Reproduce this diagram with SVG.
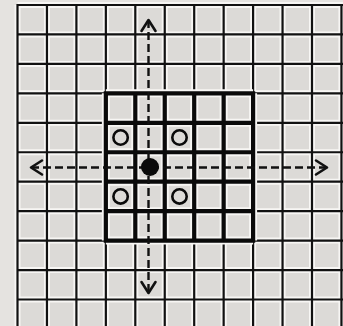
<svg xmlns="http://www.w3.org/2000/svg" width="343" height="326" viewBox="0 0 343 326">
  <style>
    .halo { fill: none; stroke: #f7f6f4; stroke-width: 6; }
    .thin { fill: none; stroke: #111; stroke-width: 2.2; }
    .thick { fill: none; stroke: #0a0a0a; stroke-width: 4.2; }
    .thickhalo { fill: none; stroke: #f7f6f4; stroke-width: 8; }
    .ring { fill: none; stroke: #0a0a0a; stroke-width: 2.6; }
    .dot { fill: #0a0a0a; }
    .dash { fill: none; stroke: #111; stroke-width: 2.4; stroke-dasharray: 8 4; }
    .head { fill: none; stroke: #111; stroke-width: 2.6; stroke-dasharray: none; stroke-linecap: round; stroke-linejoin: round; }
  </style>
  <defs>
    <marker id="arrow" markerUnits="userSpaceOnUse" viewBox="-14 -10 17 20" markerWidth="17" markerHeight="20" refX="0" refY="0" orient="auto-start-reverse">
      <path class="head" d="M-11,-7 L0,0 L-11,7"/>
    </marker>
  </defs>
  <rect width="343" height="326" fill="#e5e3e0"/>
  <g id="grid">
    <rect x="17.5" y="5" width="330" height="330" fill="#dcdad7"/>
    <path class="halo" d="M17.5,5V326M46.95,5V326M76.4,5V326M105.85,5V326M135.3,5V326M164.75,5V326M194.2,5V326M223.65,5V326M253.1,5V326M282.55,5V326M312,5V326M341.45,5V326M17.5,5H343M17.5,34.45H343M17.5,63.9H343M17.5,93.35H343M17.5,122.8H343M17.5,152.25H343M17.5,181.7H343M17.5,211.15H343M17.5,240.6H343M17.5,270.05H343M17.5,299.5H343"/>
    <path class="thin" d="M17.5,4V326M46.95,4V326M76.4,4V326M105.85,4V326M135.3,4V326M164.75,4V326M194.2,4V326M223.65,4V326M253.1,4V326M282.55,4V326M312,4V326M341.45,4V326M16.4,5H343M16.4,34.45H343M16.4,63.9H343M16.4,93.35H343M16.4,122.8H343M16.4,152.25H343M16.4,181.7H343M16.4,211.15H343M16.4,240.6H343M16.4,270.05H343M16.4,299.5H343"/>
  </g>
  <g id="square">
    <path class="thickhalo" d="M105.85,93.35V240.6M135.3,93.35V240.6M164.75,93.35V240.6M194.2,93.35V240.6M223.65,93.35V240.6M253.1,93.35V240.6M105.85,93.35H253.1M105.85,122.8H253.1M105.85,152.25H253.1M105.85,181.7H253.1M105.85,211.15H253.1M105.85,240.6H253.1"/>
    <path class="thick" d="M105.85,91.25V242.7M135.3,93.35V240.6M164.75,93.35V240.6M194.2,93.35V240.6M223.65,93.35V240.6M253.1,91.25V242.7M103.75,93.35H255.2M105.85,122.8H253.1M105.85,152.25H253.1M105.85,181.7H253.1M105.85,211.15H253.1M103.75,240.6H255.2"/>
  </g>
  <g id="connectors">
    <path class="dash" d="M148.5,20V293" marker-start="url(#arrow)" marker-end="url(#arrow)"/>
    <path class="dash" d="M31,167.5H327" marker-start="url(#arrow)" marker-end="url(#arrow)"/>
  </g>
  <g id="ring-top-left"><circle class="ring" cx="120.6" cy="137.5" r="7.2"/></g>
  <g id="ring-top-right"><circle class="ring" cx="179.5" cy="137.5" r="7.2"/></g>
  <g id="ring-bottom-left"><circle class="ring" cx="120.6" cy="196.4" r="7.2"/></g>
  <g id="ring-bottom-right"><circle class="ring" cx="179.5" cy="196.4" r="7.2"/></g>
  <g id="center-dot"><circle class="dot" cx="150" cy="167" r="9"/></g>
</svg>
